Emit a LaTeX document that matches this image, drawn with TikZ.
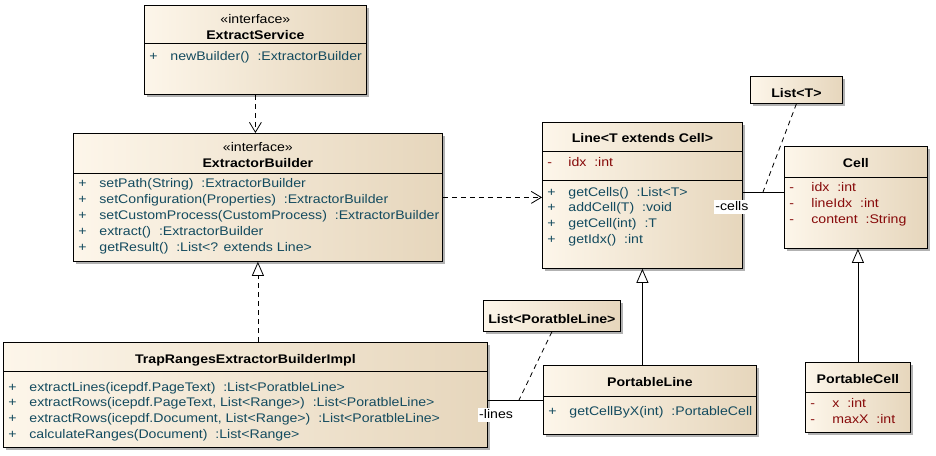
\documentclass[tikz,border=0pt]{standalone}
\usepackage{fontspec}
\setmainfont[FakeStretch=1.13]{Liberation Sans}
\usetikzlibrary{arrows.meta,shadows,calc,positioning}
\definecolor{boxleft}{RGB}{253,246,234}
\definecolor{boxright}{RGB}{230,214,188}
\definecolor{optext}{RGB}{20,75,95}
\definecolor{attrtext}{RGB}{135,10,10}
\newcommand{\umlfont}{\fontsize{12.5}{15}\selectfont}
\tikzset{
    umlclass/.style={draw, anchor=north west, inner sep=0pt, left color=boxleft, right color=boxright,
        drop shadow={shadow xshift=3pt, shadow yshift=-3pt, fill=black!30, opacity=1}},
    umlnote/.style={umlclass, font=\umlfont\bfseries, text height=15pt, text depth=0pt},
    stereo/.style={inner sep=0pt},
    title/.style={inner sep=0pt, font=\umlfont\bfseries},
    op/.style={anchor=west, inner sep=0pt, text=optext, text height=9pt, text depth=3pt},
    attr/.style={op, text=attrtext},
    role/.style={fill=white, inner sep=1pt, text height=9pt, text depth=3pt},
    depend/.style={dash pattern=on 5pt off 4pt, -{Straight Barb[length=10pt, width=12pt]}},
    realize/.style={dash pattern=on 5pt off 4pt, -{Triangle[open, fill=white, length=14pt, width=12pt]}},
    general/.style={-{Triangle[open, fill=white, length=14pt, width=12pt]}},
    notelink/.style={dash pattern=on 5pt off 4pt}
}

\begin{document}
\begin{tikzpicture}[x=1pt, y=-1pt, font=\umlfont, line width=0.8pt]
\fill[white] (0,0) rectangle (936,455);
\useasboundingbox (0,0) rectangle (936,455);

% ExtractService
\node[umlclass, minimum width=222pt, minimum height=89pt] (service) at (144,5) {};
\node[stereo] at ($(service.north)+(0,14)$) {«interface»};
\node[title] at ($(service.north)+(0,30)$) {ExtractService};
\draw (service.north west) ++(0,38) -- ++(222,0);
\node[op] at ($(service.north west)+(5,52)$) {+};
\node[op] at ($(service.north west)+(26,52)$) {newBuilder()~ :ExtractorBuilder};

% ExtractorBuilder
\node[umlclass, minimum width=369pt, minimum height=128pt] (builder) at (73,133) {};
\node[stereo] at ($(builder.north)+(0,14)$) {«interface»};
\node[title] at ($(builder.north)+(0,30)$) {ExtractorBuilder};
\draw (builder.north west) ++(0,40) -- ++(369,0);
\foreach \op [count=\i from 0] in {setPath(String)~ :ExtractorBuilder, setConfiguration(Properties)~ :ExtractorBuilder, setCustomProcess(CustomProcess)~ :ExtractorBuilder, extract()~ :ExtractorBuilder, getResult()~ :List<? extends Line>} {
    \node[op] at ($(builder.north west)+(5,51+16*\i)$) {+};
    \node[op] at ($(builder.north west)+(26,51+16*\i)$) {\op};
}

% Line
\node[umlclass, minimum width=200pt, minimum height=146pt] (line) at (542,122) {};
\node[title] at ($(line.north)+(0,16)$) {Line<T extends Cell>};
\draw (line.north west) ++(0,29) -- ++(200,0);
\node[attr] at ($(line.north west)+(5,41)$) {-};
\node[attr] at ($(line.north west)+(26,41)$) {idx~ :int};
\draw (line.north west) ++(0,58) -- ++(200,0);
\foreach \op [count=\i from 0] in {getCells()~ :List<T>, addCell(T)~ :void, getCell(int)~ :T, getIdx()~ :int} {
    \node[op] at ($(line.north west)+(5,71+15.7*\i)$) {+};
    \node[op] at ($(line.north west)+(26,71+15.7*\i)$) {\op};
}

% Cell
\node[umlclass, minimum width=143pt, minimum height=102pt] (cell) at (784,146) {};
\node[title] at ($(cell.north)+(0,17)$) {Cell};
\draw (cell.north west) ++(0,31) -- ++(143,0);
\foreach \at [count=\i from 0] in {idx~ :int, lineIdx~ :int, content~ :String} {
    \node[attr] at ($(cell.north west)+(5,42+16*\i)$) {-};
    \node[attr] at ($(cell.north west)+(27,42+16*\i)$) {\at};
}

% notes
\node[umlnote, minimum width=92pt, minimum height=27pt] (listT) at (750,76) {List<T>};
\node[umlnote, minimum width=137pt, minimum height=31pt] (listPL) at (483,300) {List<PoratbleLine>};

% TrapRangesExtractorBuilderImpl
\node[umlclass, minimum width=484pt, minimum height=105pt] (trap) at (3,342) {};
\node[title] at ($(trap.north)+(0,18)$) {TrapRangesExtractorBuilderImpl};
\draw (trap.north west) ++(0,29) -- ++(484,0);
\foreach \op [count=\i from 0] in {extractLines(icepdf.PageText)~ :List<PoratbleLine>, {extractRows(icepdf.PageText, List<Range>)~ :List<PoratbleLine>}, {extractRows(icepdf.Document, List<Range>)~ :List<PoratbleLine>}, calculateRanges(Document)~ :List<Range>} {
    \node[op] at ($(trap.north west)+(5,46+15.7*\i)$) {+};
    \node[op] at ($(trap.north west)+(26,46+15.7*\i)$) {\op};
}

% PortableLine
\node[umlclass, minimum width=213pt, minimum height=69pt] (pline) at (543,365) {};
\node[title] at ($(pline.north)+(0,17)$) {PortableLine};
\draw (pline.north west) ++(0,31) -- ++(213,0);
\node[op] at ($(pline.north west)+(5,47)$) {+};
\node[op] at ($(pline.north west)+(26,47)$) {getCellByX(int)~ :PortableCell};

% PortableCell
\node[umlclass, minimum width=105pt, minimum height=70pt] (pcell) at (805,362) {};
\node[title] at ($(pcell.north)+(0,17)$) {PortableCell};
\draw (pcell.north west) ++(0,30) -- ++(105,0);
\foreach \at [count=\i from 0] in {x~ :int, maxX~ :int} {
    \node[attr] at ($(pcell.north west)+(5,42+16*\i)$) {-};
    \node[attr] at ($(pcell.north west)+(27,42+16*\i)$) {\at};
}

% connectors
\draw[depend] (service.south) -- (service.south |- builder.north);
\draw[depend] (builder.east) -- (builder.east -| line.west);
\draw[realize] (trap.north -| builder.south) -- (builder.south);
\draw[general] (pline.north -| line.south) -- (line.south);
\draw[general] (pcell.north) -- (pcell.north |- cell.south);

\coordinate (cellsend) at ($(cell.north west)+(0,46)$);
\coordinate (cellsnote) at ($(cellsend)+(-21,0)$);
\draw (cellsend) -- (cellsend -| line.east);
\draw[notelink] (listT.south) -- (cellsnote);
\node[role, anchor=north east] at ($(cellsend -| line.east)+(7,8)$) {-cells};

\coordinate (linesend) at ($(pline.north west)+(0,35)$);
\coordinate (linesnote) at ($(linesend)+(-24,0)$);
\draw (linesend) -- (linesend -| trap.east);
\draw[notelink] (listPL.south) -- (linesnote);
\node[role, anchor=north west] at ($(linesend -| trap.east)+(-10,8)$) {-lines};
\end{tikzpicture}
\end{document}
